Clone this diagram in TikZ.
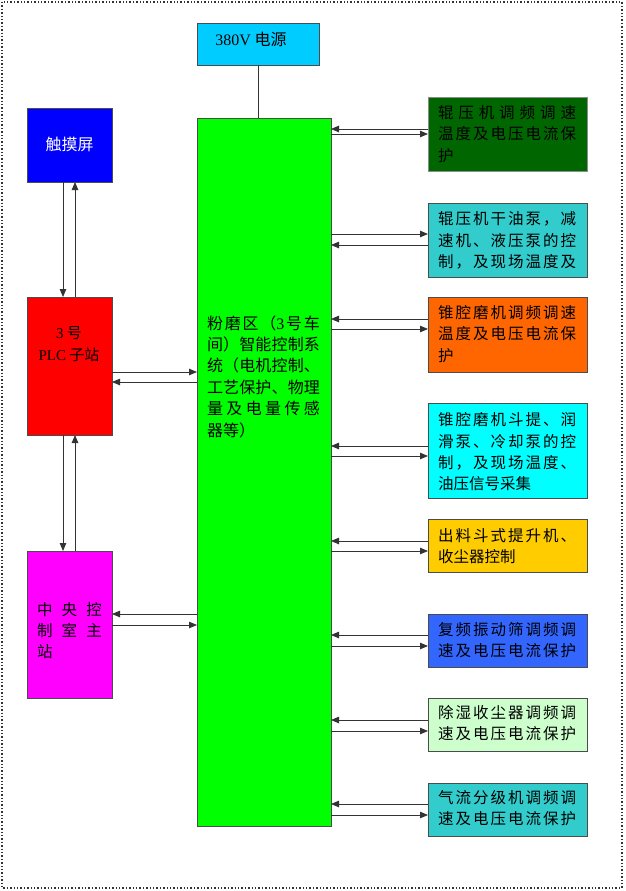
\documentclass[tikz,border=0pt]{standalone}
\usepackage{fontspec}
\setmainfont{Liberation Serif}
\newfontfamily\cjk{Noto Sans CJK SC}
\usetikzlibrary{arrows.meta}
\definecolor{cPow}{HTML}{00CCFF}
\definecolor{cGreen}{HTML}{00FF00}
\definecolor{cTouch}{HTML}{0000FF}
\definecolor{cPLC}{HTML}{FF0000}
\definecolor{cCen}{HTML}{FF00FF}
\definecolor{cBa}{HTML}{006600}
\definecolor{cBb}{HTML}{33CCCC}
\definecolor{cBc}{HTML}{FF6600}
\definecolor{cBd}{HTML}{00FFFF}
\definecolor{cBe}{HTML}{FFCC00}
\definecolor{cBf}{HTML}{3366FF}
\definecolor{cBg}{HTML}{CCFFCC}
\definecolor{cBh}{HTML}{33CCCC}
\definecolor{lineC}{HTML}{333333}
\newcommand\spreadline[2]{\makebox[#1][s]{\spA#2\relax}}
\def\spA#1{#1\spB}
\def\spB#1{\ifx#1\relax\else\hfil#1\expandafter\spB\fi}
\begin{document}
\begin{tikzpicture}[x=1pt,y=-1pt,
  box/.style={draw=black!70, line width=0.8pt, anchor=north west, inner sep=0pt, outer sep=0pt},
  rbox/.style={box, minimum width=159pt},
  txt/.style={inner sep=0pt, align=left, font=\cjk\fontsize{15.5}{21.3}\selectfont},
  arr/.style={draw=lineC, line width=0.8pt, -{Triangle[length=8pt,width=6.5pt]}},
  conn/.style={draw=lineC, line width=0.8pt}]
\useasboundingbox (0,0) rectangle (625,891);
\draw[dotted, line width=1.4pt, black!80] (2,2) rectangle (622,888);

% boxes
\node[box, fill=cPow, minimum width=122pt, minimum height=42pt] (pw) at (197,23) {};
\node[box, fill=cGreen, minimum width=134pt, minimum height=708pt] (g) at (197,118) {};
\node[box, fill=cTouch, minimum width=85pt, minimum height=74pt] (ts) at (27,108) {};
\node[box, fill=cPLC, minimum width=85pt, minimum height=138pt] (plc) at (27,297) {};
\node[box, fill=cCen, minimum width=85pt, minimum height=147pt] (cen) at (27,551) {};

\node[rbox, fill=cBa, minimum height=74pt, draw=black!45] (b1) at (428,97) {};
\node[rbox, fill=cBb, minimum height=74pt] (b2) at (428,203) {};
\node[rbox, fill=cBc, minimum height=75pt] (b3) at (428,297) {};
\node[rbox, fill=cBd, minimum height=95pt] (b4) at (428,403) {};
\node[rbox, fill=cBe, minimum height=53pt] (b5) at (428,519) {};
\node[rbox, fill=cBf, minimum height=53pt] (b6) at (428,614) {};
\node[rbox, fill=cBg, minimum height=53pt] (b7) at (428,698) {};
\node[rbox, fill=cBh, minimum height=53pt] (b8) at (428,783) {};

% texts
\node[txt, font=\cjk\fontsize{16}{20}\selectfont] (tpw) at (251,39) {{\rmfamily 380V} 电源};
\node[txt, text=white, font=\cjk\fontsize{16}{20}\selectfont] (tts) at (69.5,144) {触摸屏};
\node[txt, align=center, font=\cjk\fontsize{15}{22}\selectfont] (tplc) at (69,344) {{\rmfamily 3} 号\\{\rmfamily PLC} 子站};
\node[txt, font=\cjk\fontsize{15.5}{21}\selectfont] (tcen) at (69.5,631)
  {\spreadline{65pt}{中央控}\\\spreadline{65pt}{制室主}\\站};
\node[txt, font=\cjk\fontsize{16}{21.4}\selectfont] (tg) at (263.5,376.5)
  {\makebox[113pt][s]{粉\hfil 磨\hfil 区\hfil （{\rmfamily 3}\hfil 号\hfil 车}\\
   \spreadline{113pt}{间）智能控制系}\\
   \spreadline{113pt}{统（电机控制、}\\
   \spreadline{113pt}{工艺保护、物理}\\
   \spreadline{113pt}{量及电量传感}\\
   器等）};

\node[txt] (t1) at (507,134)
  {\spreadline{138pt}{辊压机调频调速}\\\spreadline{138pt}{温度及电压电流保}\\护};
\node[txt] (t2) at (507,240.5)
  {\spreadline{138pt}{辊压机干油泵，减}\\\spreadline{138pt}{速机、液压泵的控}\\\spreadline{138pt}{制，及现场温度及}};
\node[txt] (t3) at (507,334)
  {\spreadline{138pt}{锥腔磨机调频调速}\\\spreadline{138pt}{温度及电压电流保}\\护};
\node[txt] (t4) at (507,452)
  {\spreadline{138pt}{锥腔磨机斗提、润}\\\spreadline{138pt}{滑泵、冷却泵的控}\\\spreadline{138pt}{制，及现场温度、}\\油压信号采集};
\node[txt] (t5) at (507,546)
  {\spreadline{138pt}{出料斗式提升机、}\\收尘器控制};
\node[txt] (t6) at (507,640)
  {\spreadline{138pt}{复频振动筛调频调}\\\spreadline{138pt}{速及电压电流保护}};
\node[txt] (t7) at (507,723)
  {\spreadline{138pt}{除湿收尘器调频调}\\\spreadline{138pt}{速及电压电流保护}};
\node[txt] (t8) at (507,808)
  {\spreadline{138pt}{气流分级机调频调}\\\spreadline{138pt}{速及电压电流保护}};

% helper coordinates
\coordinate (xd) at (63,0);
\coordinate (xu) at (75,0);
\foreach \n/\y in {a1/129,b1/134,a2/245,b2/234,a3/319,b3/329,a4/446,b4/456,
                   a5/541,b5/551,a6/635,b6/646,a7/720,b7/731,a8/804,b8/815,
                   pl/382,pr/372,cl/614,cr/625}
  {\coordinate (y\n) at (0,\y);}

% connectors
\draw[conn] (pw.south) -- (pw.south |- g.north);
\draw[arr] (ts.south -| xd) -- (plc.north -| xd);
\draw[arr] (plc.north -| xu) -- (ts.south -| xu);
\draw[arr] (plc.south -| xd) -- (cen.north -| xd);
\draw[arr] (cen.north -| xu) -- (plc.south -| xu);
\draw[arr] (plc.east |- ypr) -- (g.west |- ypr);
\draw[arr] (g.west |- ypl) -- (plc.east |- ypl);
\draw[arr] (g.west |- ycl) -- (cen.east |- ycl);
\draw[arr] (cen.east |- ycr) -- (g.west |- ycr);
\foreach \i in {1,...,8}{
  \draw[arr] (b\i.west |- ya\i) -- (g.east |- ya\i);
  \draw[arr] (g.east |- yb\i) -- (b\i.west |- yb\i);
}
\end{tikzpicture}
\end{document}
